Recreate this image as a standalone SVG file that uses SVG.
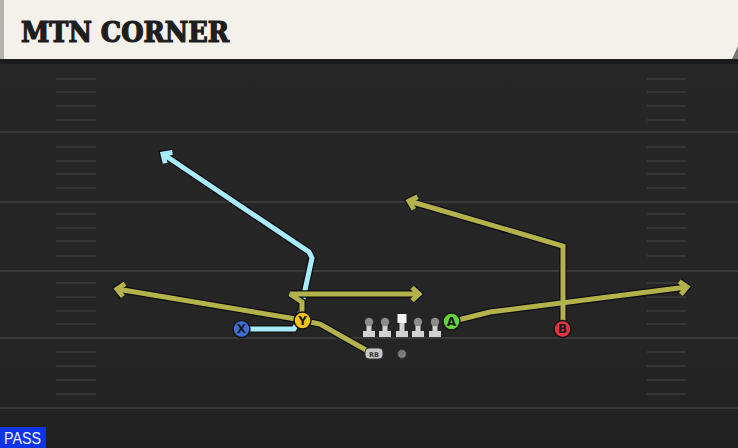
<svg xmlns="http://www.w3.org/2000/svg" width="738" height="448" viewBox="0 0 738 448">
<defs>
<linearGradient id="fieldg" x1="0" y1="0" x2="0" y2="1">
<stop offset="0" stop-color="#272727"/>
<stop offset="0.8" stop-color="#252525"/>
<stop offset="1" stop-color="#202020"/>
</linearGradient>
<marker id="mo" markerUnits="userSpaceOnUse" viewBox="-14 -12 18 24" refX="0" refY="0" markerWidth="18" markerHeight="24" orient="auto" overflow="visible">
<path d="M-7,-6.5 L0,0 L-7,6.5" fill="none" stroke="#0e0e14" stroke-width="7.5"/>
</marker>
<marker id="mol" markerUnits="userSpaceOnUse" viewBox="-14 -12 18 24" refX="0" refY="0" markerWidth="18" markerHeight="24" orient="auto" overflow="visible">
<path d="M-7,-6.5 L0,0 L-7,6.5" fill="none" stroke="#b4b24a" stroke-width="5"/>
</marker>
<marker id="mbl" markerUnits="userSpaceOnUse" viewBox="-14 -12 18 24" refX="0" refY="0" markerWidth="18" markerHeight="24" orient="auto" overflow="visible">
<path d="M-7,-6.5 L0,0 L-7,6.5" fill="none" stroke="#a9ecf9" stroke-width="5"/>
</marker>
<g id="lineman">
<rect x="-6" y="331" width="12" height="6" fill="#d2d2d2"/>
<rect x="-2.5" y="322" width="5" height="10" fill="#d2d2d2"/>
<circle cx="0" cy="322" r="4.2" fill="#8c8c8c"/>
</g>
</defs>
<style>
.yl{stroke:#3a3a3a;stroke-width:2}
.hm{stroke:#363636;stroke-width:2}
.ol{fill:none;stroke:#0e0e14;stroke-width:7.5;stroke-linejoin:miter;stroke-miterlimit:2}
.olv{fill:none;stroke:#b4b24a;stroke-width:5;stroke-linejoin:miter;stroke-miterlimit:2}
.blu{fill:none;stroke:#a9ecf9;stroke-width:5;stroke-linejoin:miter;stroke-miterlimit:2}
.pl{stroke:#151515;stroke-width:1.5}
.lt{font-family:"DejaVu Sans","Liberation Sans",sans-serif;font-weight:bold;font-size:12px;fill:#1a1a1a;text-anchor:middle}
</style>
<rect x="0" y="0" width="738" height="448" fill="url(#fieldg)"/>
<g id="header">
<rect x="0" y="59" width="738" height="5" fill="#1b1b1b"/>
<rect x="0" y="0" width="738" height="59" fill="#f4f1ea"/>
<rect x="0" y="0" width="4" height="59" fill="#b3b3b0"/>
<path d="M738,46 L738,59 L732,59 Z" fill="#777"/>
<text x="21" y="42" font-family="'DejaVu Serif Condensed','DejaVu Serif',serif" font-weight="bold" font-size="27" fill="#1e1e1e" stroke="#1e1e1e" stroke-width="1.2" textLength="208" lengthAdjust="spacingAndGlyphs">MTN CORNER</text>
</g>
<g id="field">
<line class="yl" x1="0" y1="132" x2="738" y2="132"/>
<line class="yl" x1="0" y1="202" x2="738" y2="202"/>
<line class="yl" x1="0" y1="271" x2="738" y2="271"/>
<line class="yl" x1="0" y1="338" x2="738" y2="338"/>
<line class="yl" x1="0" y1="408" x2="738" y2="408"/>
<path class="hm" d="M56,79H96M56,92H96M56,106H96M56,120H96M56,147H96M56,161H96M56,174H96M56,188H96M56,214H96M56,228H96M56,241H96M56,256H96M56,283H96M56,297H96M56,311H96M56,324H96M56,352H96M56,366H96M56,380H96M56,394H96"/>
<path class="hm" d="M647,79H686M647,92H686M647,106H686M647,120H686M647,147H686M647,161H686M647,174H686M647,188H686M647,214H686M647,228H686M647,241H686M647,256H686M647,283H686M647,297H686M647,311H686M647,324H686M647,352H686M647,366H686M647,380H686M647,394H686"/>
</g>
<g id="routes">
<path class="ol" d="M250,329 L294,329 L298,322 L312,258 L309,252 L163,154" marker-end="url(#mo)"/>
<path class="blu" d="M250,329 L294,329 L298,322 L312,258 L309,252 L163,154" marker-end="url(#mbl)"/>
<path class="ol" d="M296,319 L117,289" marker-end="url(#mo)"/>
<path class="ol" d="M302,313 L302,302 L290,294 L419,294" marker-end="url(#mo)"/>
<path class="ol" d="M310,322 L320,324 L366,350"/>
<path class="ol" d="M458,320 L490,312 L687,287" marker-end="url(#mo)"/>
<path class="ol" d="M563,321 L563,246 L409,201" marker-end="url(#mo)"/>
<path class="olv" d="M296,319 L117,289" marker-end="url(#mol)"/>
<path class="olv" d="M302,313 L302,302 L290,294 L419,294" marker-end="url(#mol)"/>
<path class="olv" d="M310,322 L320,324 L366,350"/>
<path class="olv" d="M458,320 L490,312 L687,287" marker-end="url(#mol)"/>
<path class="olv" d="M563,321 L563,246 L409,201" marker-end="url(#mol)"/>
</g>
<g id="oline">
<use href="#lineman" x="369"/>
<use href="#lineman" x="385"/>
<g id="center">
<rect x="396" y="331" width="12" height="6" fill="#d2d2d2"/>
<rect x="399.5" y="322" width="5" height="10" fill="#d2d2d2"/>
<rect x="397.5" y="314" width="9" height="9" fill="#f6f6f6"/>
</g>
<use href="#lineman" x="418"/>
<use href="#lineman" x="435"/>
</g>
<g id="rb">
<rect x="365" y="348" width="18" height="11" rx="4" fill="#c6c6c6" stroke="#333" stroke-width="1"/>
<text x="374" y="356.5" font-family="'DejaVu Sans',sans-serif" font-size="6.5" font-weight="bold" fill="#333" text-anchor="middle">RB</text>
</g>
<g id="qb"><circle cx="402" cy="354" r="4.5" fill="#7a7a7a" stroke="#333" stroke-width="1"/></g>
<g id="X"><circle class="pl" cx="241.5" cy="329" r="8.5" fill="#3e6fd6"/><text class="lt" x="241.5" y="333.3">X</text></g>
<g id="Y"><circle class="pl" cx="302.5" cy="320.5" r="8.5" fill="#f3c31c"/><text class="lt" x="302.5" y="324.8">Y</text></g>
<g id="A"><circle class="pl" cx="451.5" cy="321.5" r="8.5" fill="#64d23c"/><text class="lt" x="451.5" y="325.8">A</text></g>
<g id="B"><circle class="pl" cx="562.5" cy="329" r="8.5" fill="#e2333f"/><text class="lt" x="562.5" y="333.3">B</text></g>
<g id="pass">
<rect x="0" y="427" width="46" height="21" fill="#0f33e6"/>
<text x="4" y="444" font-family="'Liberation Sans',Arial,sans-serif" font-size="16.5" fill="#eef2ff" textLength="37" lengthAdjust="spacingAndGlyphs">PASS</text>
</g>
</svg>
